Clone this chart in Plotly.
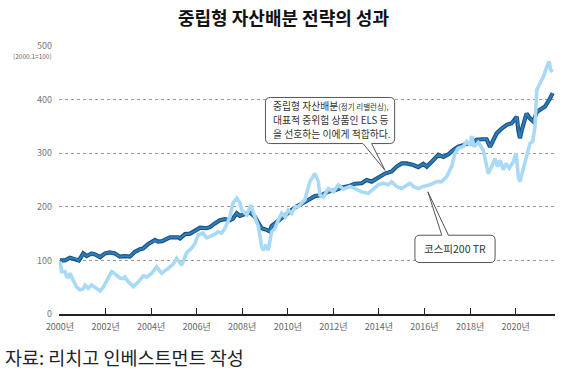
import plotly.graph_objects as go

# ---- data (decimal year, index 2000.1=100) ----
bal_x = [2000.00, 2000.22, 2000.44, 2000.66, 2000.83, 2001.02, 2001.17, 2001.39, 2001.54, 2001.76,
         2001.98, 2002.19, 2002.41, 2002.63, 2002.85, 2003.07, 2003.29, 2003.51, 2003.64, 2003.86,
         2004.17, 2004.30, 2004.48, 2004.83, 2005.18, 2005.27, 2005.49, 2005.71, 2005.93, 2006.15,
         2006.44, 2006.58, 2006.80, 2007.02, 2007.24, 2007.46, 2007.59, 2007.76, 2007.90, 2008.12,
         2008.34, 2008.56, 2008.69, 2008.85, 2009.07, 2009.22, 2009.29, 2009.51, 2009.80, 2010.10,
         2010.32, 2010.75, 2011.19, 2011.49, 2011.76, 2012.07, 2012.37, 2012.64, 2012.95, 2013.24,
         2013.46, 2013.68, 2013.97, 2014.27, 2014.56, 2014.78, 2015.00, 2015.22, 2015.51, 2015.73,
         2015.95, 2016.10, 2016.32, 2016.61, 2016.83, 2017.05, 2017.27, 2017.48, 2017.70, 2017.85,
         2018.07, 2018.29, 2018.51, 2018.73, 2018.88, 2019.02, 2019.17, 2019.39, 2019.61, 2019.83,
         2019.97, 2020.05, 2020.12, 2020.19, 2020.27, 2020.41, 2020.48, 2020.63, 2020.78, 2020.93,
         2021.07, 2021.29, 2021.51, 2021.63]
bal_y = [100, 100, 105, 103, 100, 113, 108, 113, 111, 106,
         113, 115, 113, 107, 108, 107, 116, 121, 122, 130,
         138, 135, 136, 143, 143, 141, 149, 150, 155, 161,
         160, 162, 169, 175, 177, 175, 178, 188, 183, 186,
         190, 181, 172, 160, 157, 154, 164, 172, 181, 191,
         199, 209, 220, 222, 228, 231, 236, 238, 243, 244,
         250, 247, 254, 262, 266, 275, 281, 281, 278, 274,
         280, 275, 284, 297, 293, 298, 306, 312, 315, 318,
         318, 325, 326, 326, 312, 325, 337, 346, 353, 356,
         362, 368, 343, 328, 343, 362, 374, 365, 359, 377,
         381, 387, 402, 412]

kospi_x = [2000.00, 2000.07, 2000.22, 2000.29, 2000.36, 2000.44, 2000.58, 2000.73, 2000.88, 2001.02,
           2001.10, 2001.24, 2001.39, 2001.54, 2001.76, 2001.90, 2002.12, 2002.27, 2002.41, 2002.63,
           2002.78, 2002.85, 2003.00, 2003.22, 2003.44, 2003.66, 2003.81, 2004.03, 2004.24, 2004.46,
           2004.75, 2004.97, 2005.12, 2005.34, 2005.56, 2005.78, 2005.93, 2006.06, 2006.28, 2006.44,
           2006.72, 2006.94, 2007.10, 2007.24, 2007.46, 2007.59, 2007.76, 2007.90, 2007.98, 2008.20,
           2008.37, 2008.56, 2008.71, 2008.85, 2008.92, 2009.04, 2009.14, 2009.29, 2009.44, 2009.58,
           2009.73, 2009.88, 2010.02, 2010.17, 2010.32, 2010.46, 2010.75, 2010.97, 2011.19, 2011.34,
           2011.41, 2011.56, 2011.78, 2012.00, 2012.22, 2012.44, 2012.73, 2012.95, 2013.24, 2013.53,
           2013.75, 2013.97, 2014.19, 2014.41, 2014.56, 2014.78, 2015.00, 2015.22, 2015.36, 2015.51,
           2015.73, 2015.95, 2016.24, 2016.54, 2016.76, 2016.97, 2017.19, 2017.34, 2017.48, 2017.70,
           2017.85, 2018.00, 2018.07, 2018.17, 2018.36, 2018.58, 2018.70, 2018.80, 2018.95, 2019.10,
           2019.21, 2019.32, 2019.46, 2019.58, 2019.72, 2019.90, 2020.02, 2020.12, 2020.19, 2020.34,
           2020.48, 2020.63, 2020.75, 2020.85, 2020.93, 2021.07, 2021.22, 2021.37, 2021.47, 2021.54,
           2021.63]
kospi_y = [98, 79, 79, 70, 69, 76, 63, 50, 45, 47,
           54, 48, 54, 50, 43, 50, 67, 79, 75, 67,
           66, 69, 60, 51, 60, 71, 69, 76, 88, 76,
           85, 93, 104, 91, 114, 123, 132, 147, 151, 142,
           147, 153, 151, 160, 181, 207, 216, 207, 194, 185,
           203, 181, 163, 126, 119, 129, 119, 153, 160, 175,
           188, 181, 194, 188, 200, 200, 213, 247, 262, 247,
           222, 218, 234, 228, 241, 233, 238, 234, 228, 225,
           234, 241, 244, 241, 247, 238, 234, 241, 244, 238,
           234, 238, 241, 247, 247, 256, 275, 300, 309, 312,
           322, 315, 332, 312, 320, 306, 281, 262, 275, 290,
           275, 287, 269, 281, 272, 284, 300, 256, 247, 272,
           293, 318, 322, 349, 418, 430, 443, 461, 471, 455,
           452]

x_ticks = list(range(2000, 2021, 2))
x_tick_labels = [f"{y}년" for y in x_ticks]
y_ticks = [0, 100, 200, 300, 400, 500]

title_text = "중립형 자산배분 전략의 성과"
source_text = "자료: 리치고 인베스트먼트 작성"
unit_text = "(2000.1=100)"
callout1_lines = ["중립형 자산배분<span style='font-size:7.5px'>(정기 리밸런싱),</span>",
                  "대표적 중위험 상품인 ELS 등",
                  "을 선호하는 이에게 적합하다."]
callout2_text = "코스피200 TR"

FONT = "Noto Sans CJK KR"

W, H = 567, 391
ML, MR, MT, MB = 59, 12, 46, 77
PW, PH = W - ML - MR, H - MT - MB


def px_x(px):
    return (px - ML) / PW


def px_y(py):
    return (H - MB - py) / PH


fig = go.Figure()
# balanced strategy: dark outline + lighter core
fig.add_trace(go.Scatter(x=bal_x, y=bal_y, mode="lines",
                         line=dict(color="#1b4f7e", width=4.2), hoverinfo="skip", showlegend=False))
fig.add_trace(go.Scatter(x=bal_x, y=bal_y, mode="lines",
                         line=dict(color="#2c7fbd", width=2), hoverinfo="skip", showlegend=False))
fig.add_trace(go.Scatter(x=kospi_x, y=kospi_y, mode="lines",
                         line=dict(color="#a8daf6", width=3.6), hoverinfo="skip", showlegend=False))


def callout_path(x0, x1, y0, y1, rx, ry, tb_l, tb_r, tip, side):
    tx, ty = tip
    p = f"M {x0+rx},{y1} "
    if side == "top":
        p += f"L {tb_l},{y1} L {tx},{ty} L {tb_r},{y1} "
    p += f"L {x1-rx},{y1} Q {x1},{y1} {x1},{y1-ry} L {x1},{y0+ry} Q {x1},{y0} {x1-rx},{y0} "
    if side == "bottom":
        p += f"L {tb_r},{y0} L {tx},{ty} L {tb_l},{y0} "
    p += f"L {x0+rx},{y0} Q {x0},{y0} {x0},{y0+ry} L {x0},{y1-ry} Q {x0},{y1} {x0+rx},{y1} Z"
    return p


shapes = [
    dict(type="path", xref="x", yref="y", layer="above",
         path=callout_path(2009.02, 2014.69, 318, 404, 0.22, 9, 2013.30, 2013.68, (2014.27, 268), "bottom"),
         fillcolor="white", line=dict(color="#555555", width=1)),
    dict(type="path", xref="x", yref="y", layer="above",
         path=callout_path(2015.58, 2019.10, 96, 147, 0.22, 9, 2016.76, 2017.05, (2016.15, 228), "top"),
         fillcolor="white", line=dict(color="#555555", width=1)),
]

annotations = [
    dict(text=f"<b>{title_text}</b>", x=px_x(283.5), y=px_y(17), xref="paper", yref="paper",
         xanchor="center", yanchor="middle", showarrow=False,
         font=dict(family=FONT, size=18, color="#111111")),
    dict(text=source_text, x=px_x(3), y=px_y(357), xref="paper", yref="paper",
         xanchor="left", yanchor="middle", showarrow=False,
         font=dict(family=FONT, size=18.5, color="#222222")),
    dict(text=unit_text, x=px_x(54), y=px_y(56), xref="paper", yref="paper",
         xanchor="right", yanchor="middle", showarrow=False,
         font=dict(family=FONT, size=6.5, color="#666666")),
    dict(text=callout2_text, x=2017.34, y=122, xref="x", yref="y", xanchor="center", yanchor="middle",
         showarrow=False, font=dict(family=FONT, size=10.5, color="#333333")),
]
for i, line_text in enumerate(callout1_lines):
    annotations.append(dict(text=line_text, x=px_x(271), y=px_y(106 + 14.2 * i), xref="paper", yref="paper",
                            xanchor="left", yanchor="middle", align="left", showarrow=False,
                            font=dict(family=FONT, size=9.8, color="#333333")))

fig.update_layout(
    width=W, height=H,
    margin=dict(l=ML, r=MR, t=MT, b=MB),
    paper_bgcolor="white", plot_bgcolor="white",
    shapes=shapes, annotations=annotations,
    font=dict(family=FONT),
    xaxis=dict(range=[1999.956, 2021.73], tickmode="array", tickvals=x_ticks, ticktext=x_tick_labels,
               ticks="inside", ticklen=6, tickcolor="#222222", tickwidth=1,
               showline=True, linecolor="#222222", linewidth=1.5, showgrid=False, zeroline=False,
               ticklabelstandoff=3,
               tickfont=dict(family=FONT, size=9, color="#666666")),
    yaxis=dict(range=[0, 500], tickmode="array", tickvals=y_ticks,
               showgrid=True, gridcolor="#999999", griddash="dot", gridwidth=1,
               zeroline=False, showline=False, ticks="", ticklabelstandoff=6,
               tickfont=dict(family=FONT, size=9, color="#777777")),
)

fig.write_html("out.html", config={"displayModeBar": False},
               post_script="document.body.style.margin='0';")
